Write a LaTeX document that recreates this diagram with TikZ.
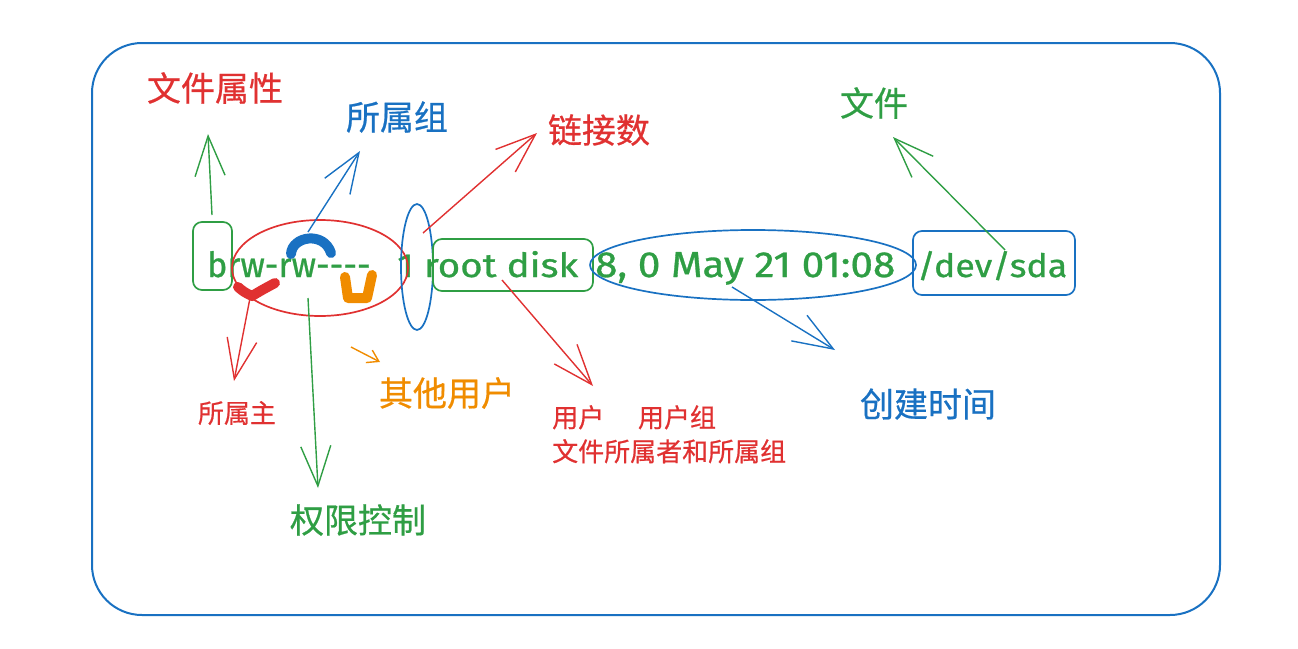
\documentclass[tikz,border=0pt]{standalone}
\usepackage{fontspec}
\setmainfont{Fira Sans}
\newfontfamily\cjk[FakeBold=0.6]{Noto Sans CJK SC}
\usetikzlibrary{arrows.meta,shapes.geometric}
\definecolor{exgreen}{HTML}{2F9E44}
\definecolor{exred}{HTML}{E03131}
\definecolor{exblue}{HTML}{1971C2}
\definecolor{exorange}{HTML}{F08C00}
\tikzset{
  frame/.style={draw=exblue, line width=2pt, rounded corners=50pt},
  rbox/.style={draw, line width=1.7pt, rounded corners=9pt, inner sep=0pt},
  oval/.style={draw, ellipse, line width=1.7pt, inner sep=0pt},
  arr/.style={line width=1.4pt, -{Straight Barb[length=40pt,width=30pt,line width=1.4pt]}},
  smallarr/.style={line width=1.4pt, -{Straight Barb[length=11pt,width=14pt,line width=1.4pt]}},
  blob/.style={line width=10pt, line cap=round, line join=round},
  big/.style={font=\cjk\fontsize{34}{40}\selectfont, inner sep=0pt},
  small/.style={font=\cjk\fontsize{26}{34}\selectfont, inner sep=0pt},
  seg/.style={anchor=base west, inner sep=0pt, text=exgreen, font=\addfontfeature{FakeBold=0.8}}
}
\begin{document}
\begin{tikzpicture}[x=1pt,y=-1pt]
\useasboundingbox (0,0) rectangle (1298,648);
\draw[frame] (92,43) rectangle (1220,615);

% main text line
\node[seg] (t1) at (207,277) {\resizebox{170pt}{26pt}{brw-{}rw-{}-{}-{}-.}};
\node[seg] (t2) at (397,277) {\resizebox{181pt}{26pt}{1 root disk}};
\node[seg] (t3) at (595,277) {\resizebox{300pt}{25pt}{8, 0 May 21 01:08}};
\node[seg] (t4) at (917,277) {\resizebox{150pt}{26pt}{/dev/sda}};

% highlight shapes
\node[rbox, draw=exgreen, minimum width=39pt, minimum height=68pt] (bbox) at (212.5,256) {};
\node[oval, draw=exred, minimum width=176pt, minimum height=96pt] (permoval) at (320,268) {};
\node[oval, draw=exblue, minimum width=32pt, minimum height=126pt] (linkoval) at (417,267) {};
\node[rbox, draw=exgreen, minimum width=160pt, minimum height=52pt] (ownbox) at (513,265) {};
\node[oval, draw=exblue, minimum width=326pt, minimum height=70pt] (timeoval) at (753,265) {};
\node[rbox, draw=exblue, minimum width=162pt, minimum height=64pt] (filebox) at (994,263) {};

% marker blobs
\draw[blob, exblue] (291,254) .. controls (292,236) and (324,231) .. (331,253);
\draw[blob, exred] (238,287) .. controls (244,292) .. (252,296) .. controls (262,290) .. (275,283);
\draw[blob, exorange] (345,277) -- (348,298) -- (367,298) -- (372,275);

% labels
\node[big, text=exred] (lattr) at (215,88) {文件属性};
\node[big, text=exblue] (lgroup) at (397,117) {所属组};
\node[big, text=exred] (llink) at (599,130) {链接数};
\node[big, text=exgreen] (lfile) at (874,103) {文件};
\node[big, text=exblue] (ltime) at (928,404) {创建时间};
\node[big, text=exorange] (lother) at (447,393) {其他用户};
\node[big, text=exgreen] (lperm) at (358,520) {权限控制};
\node[small, text=exred] (lowner) at (237,413) {所属主};
\node[small, text=exred, anchor=north west, align=left] (luser) at (552,405) {用户\hspace{1.3em}用户组\\文件所属者和所属组};

% arrow coordinates
\coordinate (s1) at (212,215); \coordinate (e1) at (208,134);
\coordinate (s2) at (308,232); \coordinate (e2) at (360,151);
\coordinate (s3) at (423,233); \coordinate (e3) at (537,133);
\coordinate (s4) at (1005,250); \coordinate (e4) at (893,137);
\coordinate (s5) at (732,287); \coordinate (e5) at (835,350);
\coordinate (s6) at (502,280); \coordinate (e6) at (593,386);
\coordinate (s7) at (250,298); \coordinate (e7) at (234,381);
\coordinate (s8) at (308,298); \coordinate (e8) at (318,488);
\coordinate (s9) at (351,347); \coordinate (e9) at (380,362);

\draw[arr, exgreen] (s1) -- (e1);
\draw[arr, exblue] (s2) -- (e2);
\draw[arr, exred] (s3) -- (e3);
\draw[arr, exgreen] (s4) -- (e4);
\draw[arr, exblue] (s5) -- (e5);
\draw[arr, exred] (s6) -- (e6);
\draw[arr, exred] (s7) -- (e7);
\draw[arr, exgreen] (s8) -- (e8);
\draw[smallarr, exorange] (s9) -- (e9);
\end{tikzpicture}
\end{document}
